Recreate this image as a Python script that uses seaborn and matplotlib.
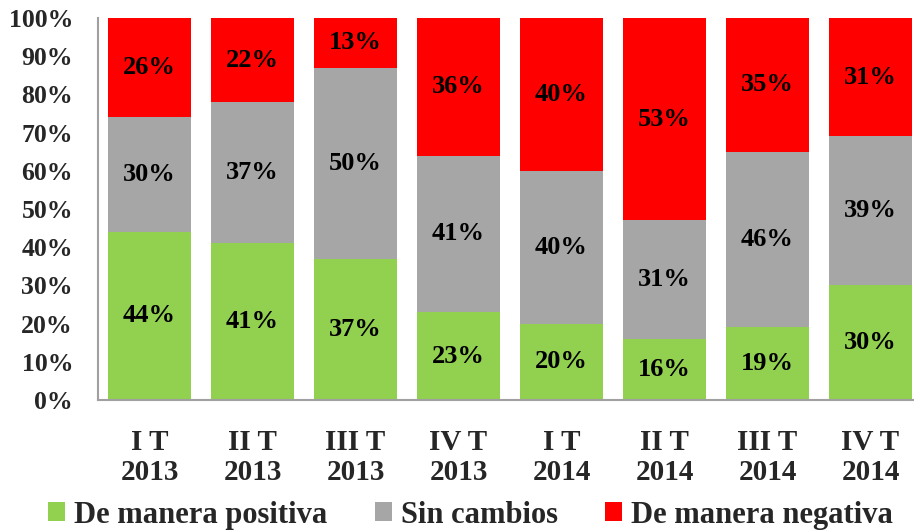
import matplotlib
matplotlib.use("Agg")
import matplotlib.pyplot as plt
from matplotlib.patches import Patch
import numpy as np
import pandas as pd
import seaborn as sns

quarters = ["I T\n2013", "II T\n2013", "III T\n2013", "IV T\n2013",
            "I T\n2014", "II T\n2014", "III T\n2014", "IV T\n2014"]
positiva = [44, 41, 37, 23, 20, 16, 19, 30]
sin_cambios = [30, 37, 50, 41, 40, 31, 46, 39]
negativa = [26, 22, 13, 36, 40, 53, 35, 31]

series_names = ["De manera positiva", "Sin cambios", "De manera negativa"]
colors = ["#92D050", "#A6A6A6", "#FF0000"]

sns.set_theme(style="white")
plt.rcParams["font.family"] = ["Liberation Serif", "DejaVu Serif"]
plt.rcParams["font.weight"] = "bold"

df = pd.DataFrame({
    "quarter": quarters,
    "pos": positiva,
    "sin": sin_cambios,
    "neg": negativa,
})
df["cum_sin"] = df["pos"] + df["sin"]
df["cum_neg"] = df["cum_sin"] + df["neg"]

fig = plt.figure(figsize=(9.14, 5.32), dpi=100)
ax = fig.add_axes([98 / 914, (532 - 400) / 532, 824 / 914, 382 / 532])

# stacked by overdrawing cumulative totals back to front
for col, color in [("cum_neg", colors[2]), ("cum_sin", colors[1]), ("pos", colors[0])]:
    sns.barplot(data=df, x="quarter", y=col, color=color, width=0.8,
                saturation=1, ax=ax, edgecolor="none")

x = np.arange(len(quarters))
bottoms = np.zeros(len(quarters))
for vals in [positiva, sin_cambios, negativa]:
    vals = np.array(vals)
    for xi, b, v in zip(x, bottoms, vals):
        ax.text(xi, b + v / 2, f"{v}%", ha="center", va="center",
                fontsize=19, fontweight="bold", color="black")
    bottoms = bottoms + vals

ax.set_ylim(0, 100)
ax.set_xlim(-0.5, len(quarters) - 0.5)
ax.set_yticks(np.arange(0, 101, 10))
ax.set_yticklabels([f"{t}%" for t in range(0, 101, 10)], fontsize=18.5, fontweight="bold")
ax.set_xticks(x)
ax.set_xticklabels(quarters, fontsize=21, fontweight="bold", linespacing=1.15)
ax.set_xlabel("")
ax.set_ylabel("")
ax.tick_params(axis="y", length=0, pad=18)
ax.tick_params(axis="x", length=0, pad=21)
for side in ["top", "right"]:
    ax.spines[side].set_visible(False)
for side in ["left", "bottom"]:
    ax.spines[side].set_color("#A0A0A0")
    ax.spines[side].set_linewidth(1.5)

handles = [Patch(facecolor=c, edgecolor="none") for c in colors]
fig.legend(handles, series_names, loc="lower center", ncol=3, frameon=False,
           bbox_to_anchor=(0.515, -0.047),
           handlelength=0.55, handleheight=0.55, handletextpad=0.3, columnspacing=1.55,
           prop={"weight": "bold", "size": 22})

fig.savefig("out.png", dpi=100)
